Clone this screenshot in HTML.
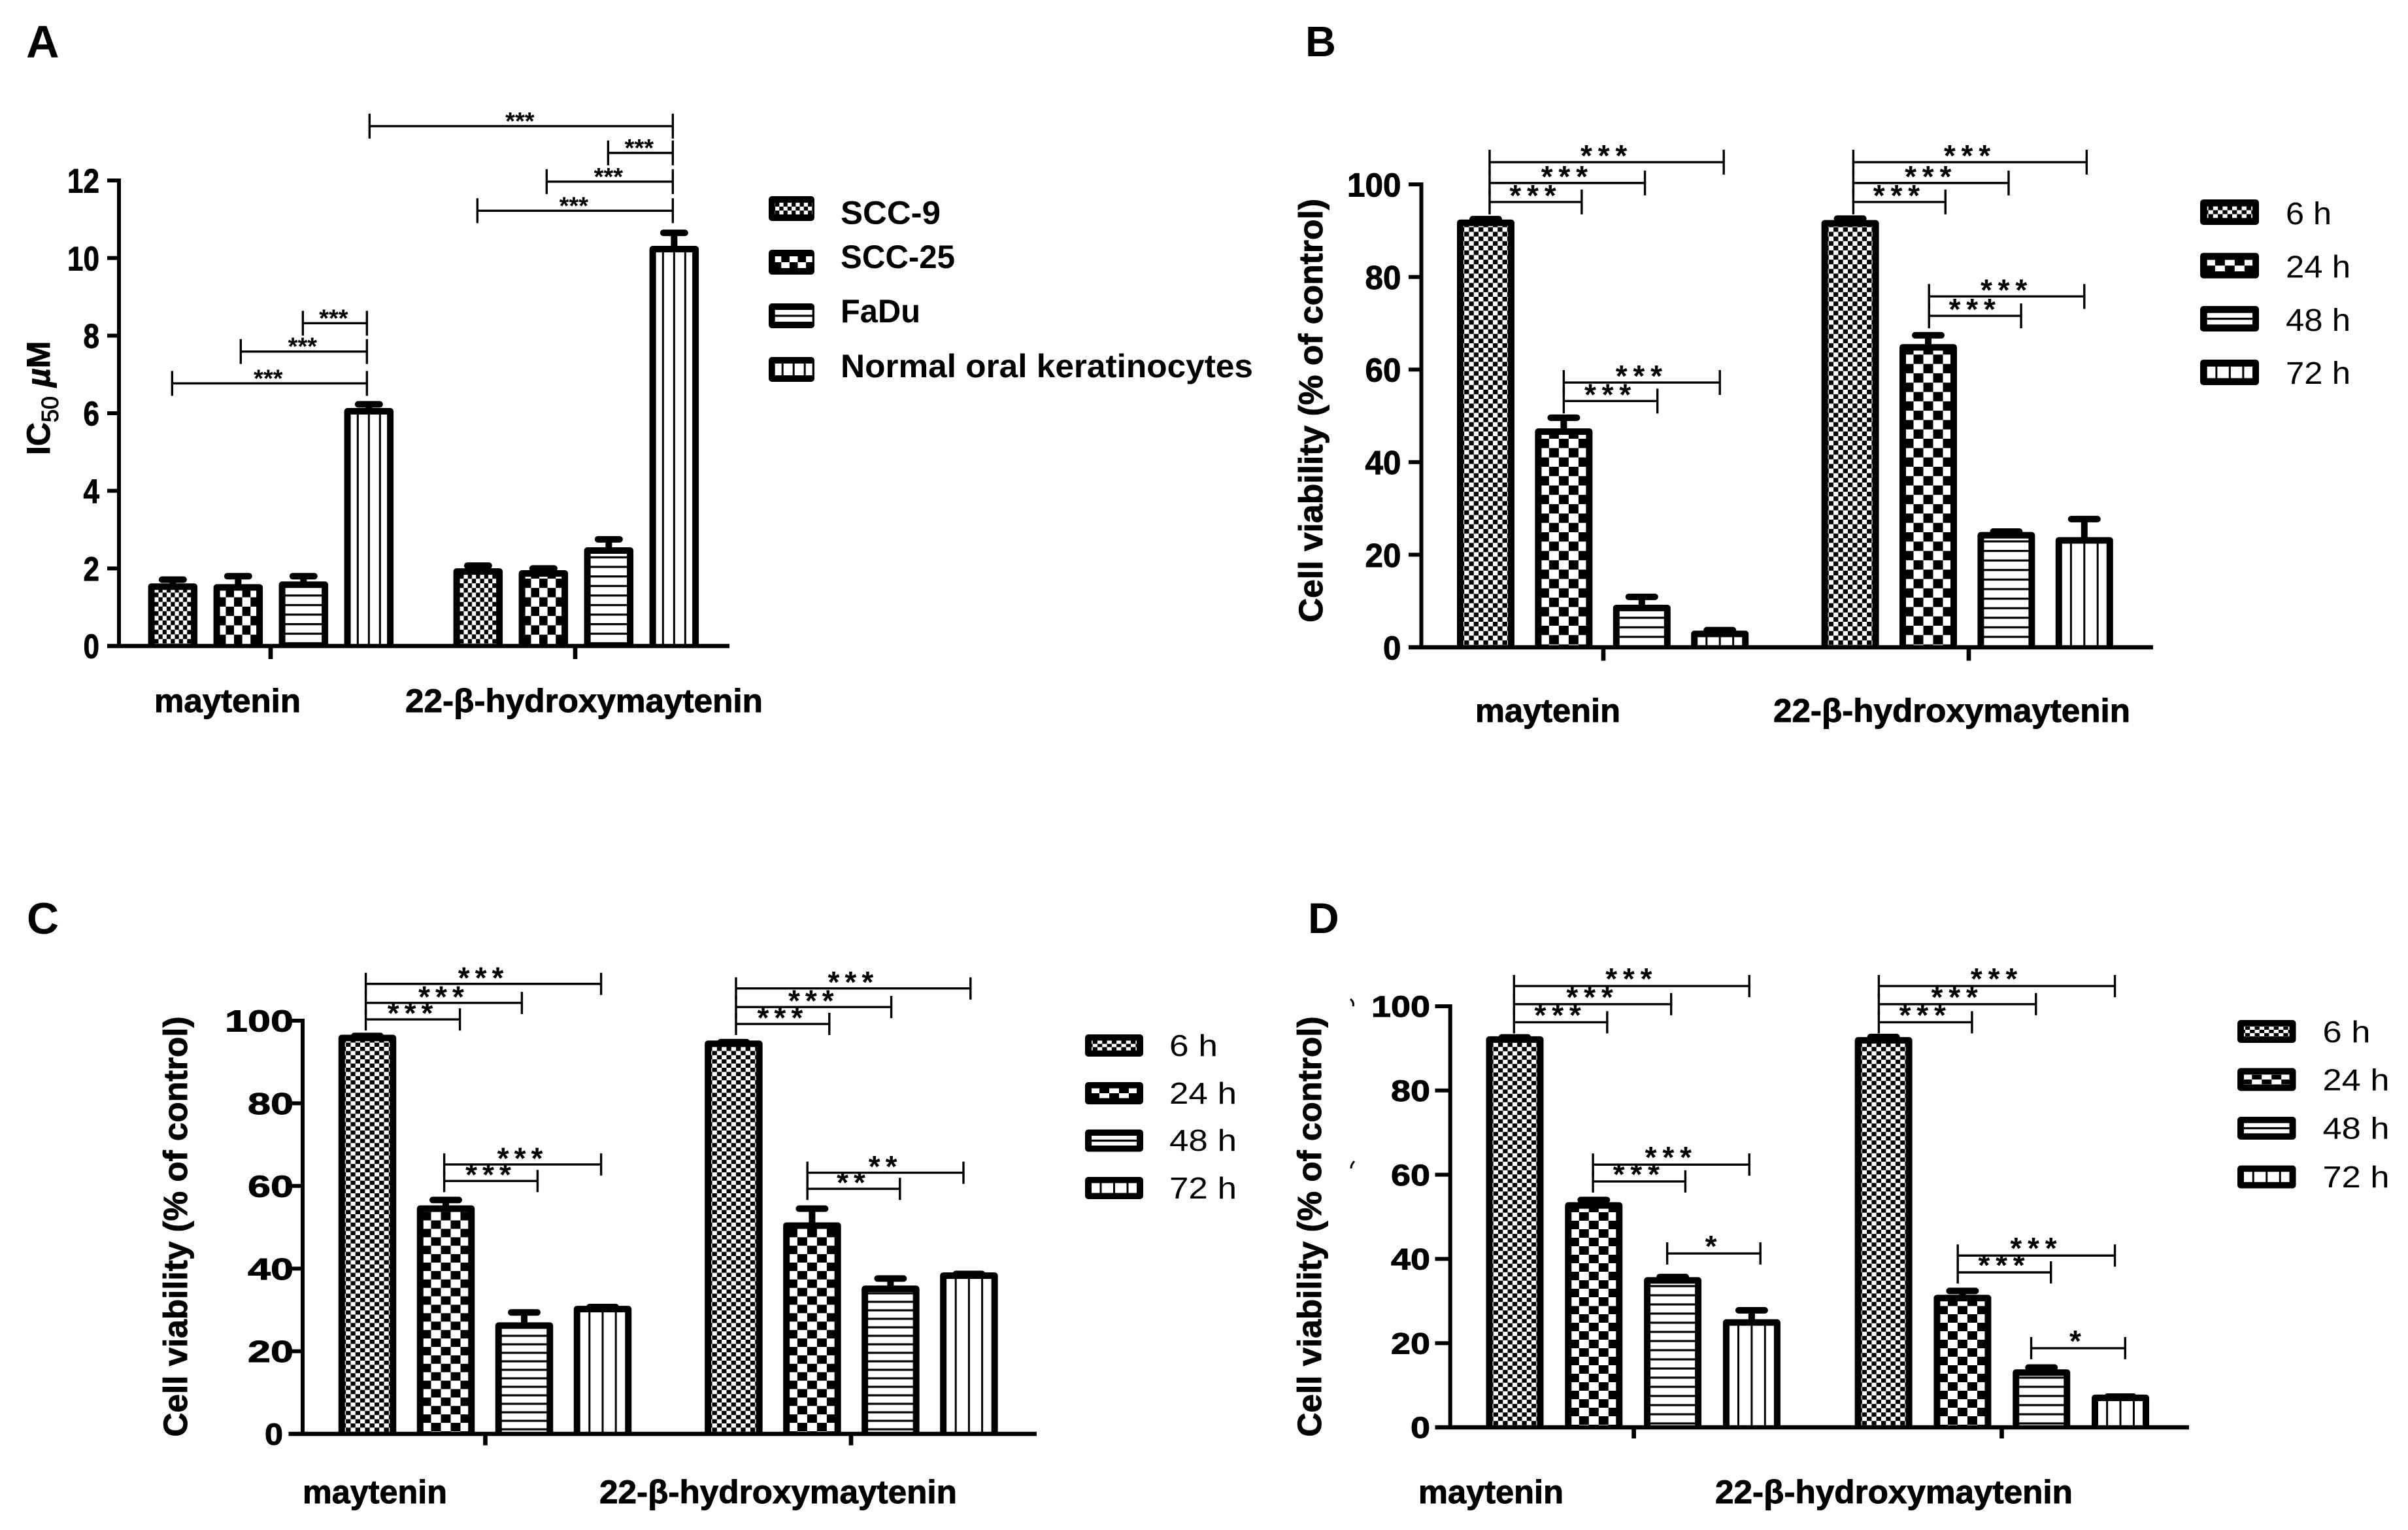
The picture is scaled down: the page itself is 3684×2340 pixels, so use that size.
<!DOCTYPE html>
<html lang="en">
<head>
<meta charset="utf-8">
<title>IC50 and cell viability of maytenin and 22-β-hydroxymaytenin</title>
<style>
html,body{margin:0;padding:0;background:#fff;}
#figure{display:block;position:absolute;left:0;top:0;width:3684px;height:2340px;background:#fff;font-family:"Liberation Sans",Arial,sans-serif;fill:#000;}
.heavy{stroke:#000;stroke-width:0.9px;}
</style>
</head>
<body>
<svg id="figure" width="3684" height="2340" viewBox="0 0 3684 2340">
  <defs id="pattern-defs"></defs>
  <rect x="0" y="0" width="3684" height="2340" fill="#fff"></rect>

  <text x="40" y="88" font-size="70" font-weight="700">A</text>
  <text x="1997" y="86" font-size="65" font-weight="700">B</text>
  <text x="41" y="1428" font-size="68" font-weight="700">C</text>
  <text x="2001" y="1427" font-size="66" font-weight="700">D</text>

  <text class="heavy" transform="translate(76,696) rotate(-90)" font-size="50" font-weight="700">IC<tspan dy="13" font-size="36" font-weight="400">50</tspan><tspan dy="-13"> </tspan><tspan font-style="italic">µ</tspan>M</text>
  <text class="heavy" transform="translate(2023,628) rotate(-90)" font-size="51" font-weight="700" text-anchor="middle" textLength="648" lengthAdjust="spacingAndGlyphs">Cell viability (% of control)</text>
  <text class="heavy" transform="translate(286,1876) rotate(-90)" font-size="51" font-weight="700" text-anchor="middle" textLength="643" lengthAdjust="spacingAndGlyphs">Cell viability (% of control)</text>
  <text class="heavy" transform="translate(2021,1876) rotate(-90)" font-size="51" font-weight="700" text-anchor="middle" textLength="643" lengthAdjust="spacingAndGlyphs">Cell viability (% of control)</text>

  <path d="M2066 1528 Q2072 1533 2070 1539" fill="none" stroke="#000" stroke-width="3"></path>
  <path d="M2072 1776 Q2067 1781 2067 1787" fill="none" stroke="#000" stroke-width="3"></path>

  <g id="panel-a"></g>
  <g id="panel-b"></g>
  <g id="panel-c"></g>
  <g id="panel-d"></g>
</svg>

<script>
/* ---------- chart data ---------- */
const groupLabels = ['maytenin', '22-β-hydroxymaytenin'];
const seriesCells = ['SCC-9', 'SCC-25', 'FaDu', 'Normal oral keratinocytes'];
const seriesTimes = ['6 h', '24 h', '48 h', '72 h'];
const yTicksA = [0, 2, 4, 6, 8, 10, 12];
const yTicksViability = [0, 20, 40, 60, 80, 100];

const meansA = [1.53, 1.51, 1.58, 6.05, 1.92, 1.87, 2.46, 10.23];
const errorsA = [0.18, 0.29, 0.22, 0.18, 0.15, 0.13, 0.29, 0.42];
const meansB = [91.7, 46.6, 8.5, 2.9, 91.6, 64.8, 24.2, 23.1];
const errorsB = [0.8, 3.0, 2.4, 0.8, 1.0, 2.6, 0.8, 4.6];
const meansC = [95.8, 54.5, 26.2, 30.2, 94.4, 50.4, 35.1, 38.3];
const errorsC = [0.5, 2.1, 3.2, 0.5, 0.4, 4.1, 2.5, 0.4];
const meansD = [92.1, 52.7, 34.9, 24.9, 91.9, 30.7, 13.0, 7.0];
const errorsD = [0.5, 1.3, 0.8, 2.9, 0.8, 1.7, 1.2, 0.3];

/* significance brackets: [from slot, to slot, value level, label] */
const bracketsA = [
  [-0.01, 2.97, 6.77, '***'], [1.04, 2.97, 7.59, '***'], [1.99, 2.97, 8.32, '***'],
  [4.66, 7.65, 11.22, '***'], [5.72, 7.65, 11.97, '***'], [6.66, 7.65, 12.71, '***'],
  [3.01, 7.65, 13.4, '***']
];
const bracketsB = [
  [0.05, 1.23, 96.2, '***'], [0.05, 2.04, 100.3, '***'], [0.05, 3.05, 104.8, '***'],
  [1.0, 2.2, 53.2, '***'], [1.0, 3.0, 57.2, '***'],
  [4.71, 5.89, 96.2, '***'], [4.71, 6.7, 100.3, '***'], [4.71, 7.7, 104.8, '***'],
  [5.68, 6.86, 71.6, '***'], [5.68, 7.67, 75.8, '***']
];
const bracketsC = [
  [-0.02, 1.18, 100.3, '***'], [-0.02, 1.97, 104.3, '***'], [-0.02, 2.98, 108.9, '***'],
  [0.98, 2.17, 61.2, '***'], [0.98, 2.98, 65.2, '***'],
  [4.7, 5.89, 99.2, '***'], [4.7, 6.68, 103.3, '***'], [4.7, 7.69, 107.8, '***'],
  [5.61, 6.79, 59.3, '**'], [5.61, 7.6, 63.2, '**']
];
const bracketsD = [
  [-0.01, 1.17, 96.2, '***'], [-0.01, 1.98, 100.5, '***'], [-0.01, 2.97, 104.8, '***'],
  [0.99, 2.16, 58.4, '***'], [0.99, 2.97, 62.4, '***'], [1.93, 3.11, 41.3, '*'],
  [4.61, 5.79, 96.2, '***'], [4.61, 6.6, 100.5, '***'], [4.61, 7.6, 104.8, '***'],
  [5.61, 6.79, 36.8, '***'], [5.61, 7.6, 40.8, '***'], [6.54, 7.73, 18.8, '*']
];

/* ---------- panel wiring and layout ---------- */
const panelA = {
  key: 'a', means: meansA, errors: errorsA, brackets: bracketsA, ticks: yTicksA, series: seriesCells,
  axisX: 182, y0: 988, yTop: 276, yMax: 12, xStart: 164, xEnd: 1116, xTickBottom: 1008, xTicks: [414, 880],
  x0: 264.35, step: 100, barW: 65.5, capHalf: 16.5, bracketTick: 19,
  tickFont: 52, tickRight: 152, digitW: 24.5,
  starFont: 38, starGap: 0, starDrop: 5, starShift: -2,
  groupText: [[236, 224, 1089], [620, 547, 1089]],
  pat: { fx: 6.25, fy: 7.1, cx: 12.6, cy: 14.3, cr: -17.3, hp: 14.6, ho: -18.8, vp: 17 },
  legendPat: { fx: 6.25, fy: 6, cx: 12.6, cy: 9, cr: 0, hp: 100, ho: 0, vp: 17 },
  legend: { x: 1176, w: 70, h: 38, ys: [300, 382, 464, 546], ix: 9.7, iw: 57, iy: 10, ih: 18,
            textX: 1286, base: [342.5, 410, 493, 577], font: 50, weight: 700, lens: [153, 175, 122, 631] }
};
const panelB = {
  key: 'b', means: meansB, errors: errorsB, brackets: bracketsB, ticks: yTicksViability, series: seriesTimes,
  axisX: 2174.5, y0: 990, yTop: 282, yMax: 100, xStart: 2155, xEnd: 3294, xTickBottom: 1010.5, xTicks: [2453, 3012],
  x0: 2273, step: 119.4, barW: 78, capHalf: 20, bracketTick: 19,
  tickFont: 51, tickRight: 2143.5, digitW: 27.5,
  starFont: 46, starGap: 8.8, starDrop: 6, starShift: 0,
  groupText: [[2257, 222, 1104], [2713, 546, 1104]],
  pat: { fx: 7.3, fy: 7.1, cx: 15, cy: 14.3, cr: -4.4, hp: 14.6, ho: -16, vp: 20.4 },
  legendPat: { fx: 7.3, fy: 6, cx: 15, cy: 9, cr: 0, hp: 100, ho: 0, vp: 20.5 },
  legend: { x: 3366, w: 90, h: 39, ys: [305, 386.7, 468, 550], ix: 10.7, iw: 69.3, iy: 10.7, ih: 17.6,
            textX: 3497, base: [343, 424.5, 506, 587], font: 48, weight: 400, lens: [70, 99, 99, 99] }
};
const panelC = {
  key: 'c', means: meansC, errors: errorsC, brackets: bracketsC, ticks: yTicksViability, series: seriesTimes,
  axisX: 463, y0: 2193, yTop: 1561, yMax: 100, xStart: 441.5, xEnd: 1586, xTickBottom: 2210.5, xTicks: [742.5, 1302],
  x0: 562, step: 120, barW: 78.5, capHalf: 20, bracketTick: 17,
  tickFont: 46, tickRight: 449, digitW: 35, zeroRight: 433, zeroW: 28,
  starFont: 46, starGap: 8, starDrop: 6.5, starShift: 0,
  groupText: [[463, 221, 2299], [917, 547, 2299]],
  pat: { fx: 7.3, fy: 6.4, cx: 15, cy: 12.9, cr: -4, hp: 13, ho: -7, vp: 20.2 },
  legendPat: { fx: 7.3, fy: 5, cx: 15, cy: 7.5, cr: 0, hp: 100, ho: 0, vp: 20.5 },
  legend: { x: 1660, w: 89, h: 34, ys: [1582, 1655, 1727.5, 1800], ix: 10, iw: 69, iy: 9.5, ih: 15,
            textX: 1789, base: [1615, 1688, 1760, 1833], font: 46, weight: 400, lens: [74, 103, 103, 103] }
};
const panelD = {
  key: 'd', means: meansD, errors: errorsD, brackets: bracketsD, ticks: yTicksViability, series: seriesTimes,
  axisX: 2218.7, y0: 2183, yTop: 1539, yMax: 100, xStart: 2195.5, xEnd: 3349, xTickBottom: 2200, xTicks: [2499.6, 3062.5],
  x0: 2317.5, step: 120.8, barW: 78, capHalf: 20, bracketTick: 17,
  tickFont: 45, tickRight: 2188, digitW: 30,
  starFont: 46, starGap: 8.8, starDrop: 5, starShift: 0,
  groupText: [[2170, 222, 2299], [2624, 547, 2299]],
  pat: { fx: 7.3, fy: 6.5, cx: 15, cy: 13, cr: -4, hp: 14, ho: -6, vp: 20.4 },
  legendPat: { fx: 7.3, fy: 5, cx: 15, cy: 7.5, cr: 0, hp: 100, ho: 0, vp: 20.5 },
  legend: { x: 3423, w: 89.5, h: 35, ys: [1560, 1633.5, 1708, 1782.5], ix: 10, iw: 69.5, iy: 9.7, ih: 15.6,
            textX: 3553.5, base: [1594, 1667.5, 1741.4, 1816], font: 46, weight: 400, lens: [73, 102, 102, 102] }
};
const groupGap = 0.67;

/* ---------- drawing ---------- */
const svgRoot = document.getElementById('figure');
const NS = svgRoot.namespaceURI;
const defsRoot = document.getElementById('pattern-defs');

function mk(tag, parent, attrs) {
  const node = document.createElementNS(NS, tag);
  for (const k in attrs) node.setAttribute(k, attrs[k]);
  parent.appendChild(node);
  return node;
}

function tile(id, w, h, tx, ty, rects) {
  const p = mk('pattern', defsRoot, { id: id, patternUnits: 'userSpaceOnUse', width: w, height: h, patternTransform: 'translate(' + tx + ' ' + ty + ')' });
  mk('rect', p, { x: 0, y: 0, width: w, height: h, fill: '#fff' });
  rects.forEach(function (r) {
    mk('rect', p, { x: r[0], y: r[1], width: r[2], height: r[3], fill: '#000' });
  });
}

function definePatterns(id, c) {
  tile(id + '-0', 2 * c.fx, 2 * c.fy, -c.fx / 2, -c.fy * 1.5, [[0, 0, c.fx, c.fy], [c.fx, c.fy, c.fx, c.fy]]);
  tile(id + '-1', 2 * c.cx, 2 * c.cy, -c.cx / 2, c.cr, [[0, 0, c.cx, c.cy], [c.cx, c.cy, c.cx, c.cy]]);
  tile(id + '-2', 10, c.hp, 0, c.ho - 1.6, [[0, 0, 10, 3.2]]);
  tile(id + '-3', c.vp, 10, -1.5, 0, [[0, 0, 3, 10]]);
}

function drawPanel(P) {
  const root = document.getElementById('panel-' + P.key);
  const yScale = function (v) { return P.y0 - (P.y0 - P.yTop) * v / P.yMax; };
  const xScale = function (u) { return P.x0 + P.step * u; };
  const slotOf = function (i) { return i < 4 ? i : i + groupGap; };
  const barPat = 'pat-' + P.key;
  const legPat = 'leg-' + P.key;
  definePatterns(barPat, P.pat);
  definePatterns(legPat, P.legendPat);

  P.means.forEach(function (mean, i) {
    const cx = xScale(slotOf(i));
    const top = yScale(mean);
    const errTop = yScale(mean + P.errors[i]);
    const series = P.series[i % 4];
    const g = mk('g', root, { transform: 'translate(' + cx + ' ' + P.y0 + ')' });
    
    

    const hatch = mk('rect', g, { x: -P.barW / 2, y: top - P.y0, width: P.barW, height: P.y0 - top, fill: 'url(#' + barPat + '-' + (i % 4) + ')' });
    
    

    const stem = mk('line', g, { x1: 0, x2: 0, y1: top - P.y0, y2: errTop - P.y0, stroke: '#000', 'stroke-width': 10 });
    
    

    const cap = mk('line', g, { x1: -P.capHalf, x2: P.capHalf, y1: errTop - P.y0, y2: errTop - P.y0, stroke: '#000', 'stroke-width': 10, 'stroke-linecap': 'round' });
    
    

    const outline = mk('path', g, {
      d: 'M' + (-P.barW / 2) + ' 0V' + (top - P.y0) + 'H' + (P.barW / 2) + 'V0',
      fill: 'none', stroke: '#000', 'stroke-width': 10, 'stroke-linejoin': 'round'
    });
    
    
  });

  const yAxis = mk('line', root, { x1: P.axisX, x2: P.axisX, y1: yScale(P.yMax) - 3, y2: P.y0, stroke: '#000', 'stroke-width': 6 });
  
  

  const xAxis = mk('line', root, { x1: P.xStart, x2: P.xEnd, y1: P.y0, y2: P.y0, stroke: '#000', 'stroke-width': 6.5 });
  
  

  P.ticks.forEach(function (t) {
    const y = yScale(t);
    if (t !== 0) {
      const tick = mk('line', root, { x1: P.xStart, x2: P.axisX, y1: y, y2: y, stroke: '#000', 'stroke-width': 6 });
      
      
    }
    const str = String(t);
    const isZero = t === 0 && P.zeroRight;
    const label = mk('text', root, {
      x: isZero ? P.zeroRight : P.tickRight,
      y: y + 0.36 * P.tickFont,
      'font-size': P.tickFont, 'font-weight': 700, 'text-anchor': 'end', class: 'heavy',
      textLength: isZero ? P.zeroW : str.length * P.digitW, lengthAdjust: 'spacingAndGlyphs'
    });
    label.textContent = str;
    
    
  });

  groupLabels.forEach(function (name, i) {
    const tick = mk('line', root, { x1: P.xTicks[i], x2: P.xTicks[i], y1: P.y0, y2: P.xTickBottom, stroke: '#000', 'stroke-width': 6.7 });
    
    
    const pos = P.groupText[i];
    const label = mk('text', root, { x: pos[0], y: pos[2], 'font-size': 50, 'font-weight': 700, class: 'heavy', textLength: pos[1], lengthAdjust: 'spacingAndGlyphs' });
    label.textContent = name;
    
    
  });

  P.brackets.forEach(function (b, i) {
    const x1 = xScale(b[0]);
    const x2 = xScale(b[1]);
    const y = yScale(b[2]);
    const h = P.bracketTick;
    const g = mk('g', root, {});
    
    
    const line = mk('path', g, {
      d: 'M' + x1 + ' ' + (y - h) + 'V' + (y + h) + 'M' + x2 + ' ' + (y - h) + 'V' + (y + h) + 'M' + x1 + ' ' + y + 'H' + x2,
      fill: 'none', stroke: '#000', 'stroke-width': 3.4
    });
    
    
    const stars = mk('text', g, {
      x: (x1 + x2) / 2 + P.starShift, y: y + P.starDrop,
      'font-size': P.starFont, 'font-weight': 700, 'text-anchor': 'middle', 'letter-spacing': P.starGap
    });
    stars.textContent = b[3];
    
    
  });

  const L = P.legend;
  P.series.forEach(function (name, i) {
    const entry = mk('g', root, {});
    
    
    const box = mk('rect', entry, { x: L.x, y: L.ys[i], width: L.w, height: L.h, rx: 5, fill: '#000' });
    
    
    const g = mk('g', entry, { transform: 'translate(' + (L.x + L.ix + L.iw / 2) + ' ' + (L.ys[i] + L.iy + L.ih / 2) + ')' });
    const inner = mk('rect', g, { x: -L.iw / 2, y: -L.ih / 2, width: L.iw, height: L.ih, fill: 'url(#' + legPat + '-' + i + ')' });
    
    
    const text = mk('text', entry, { x: L.textX, y: L.base[i], 'font-size': L.font, 'font-weight': L.weight, textLength: L.lens[i], lengthAdjust: 'spacingAndGlyphs' });
    text.textContent = name;
    
    
  });
}

[panelA, panelB, panelC, panelD].forEach(drawPanel);
</script>
</body>
</html>
